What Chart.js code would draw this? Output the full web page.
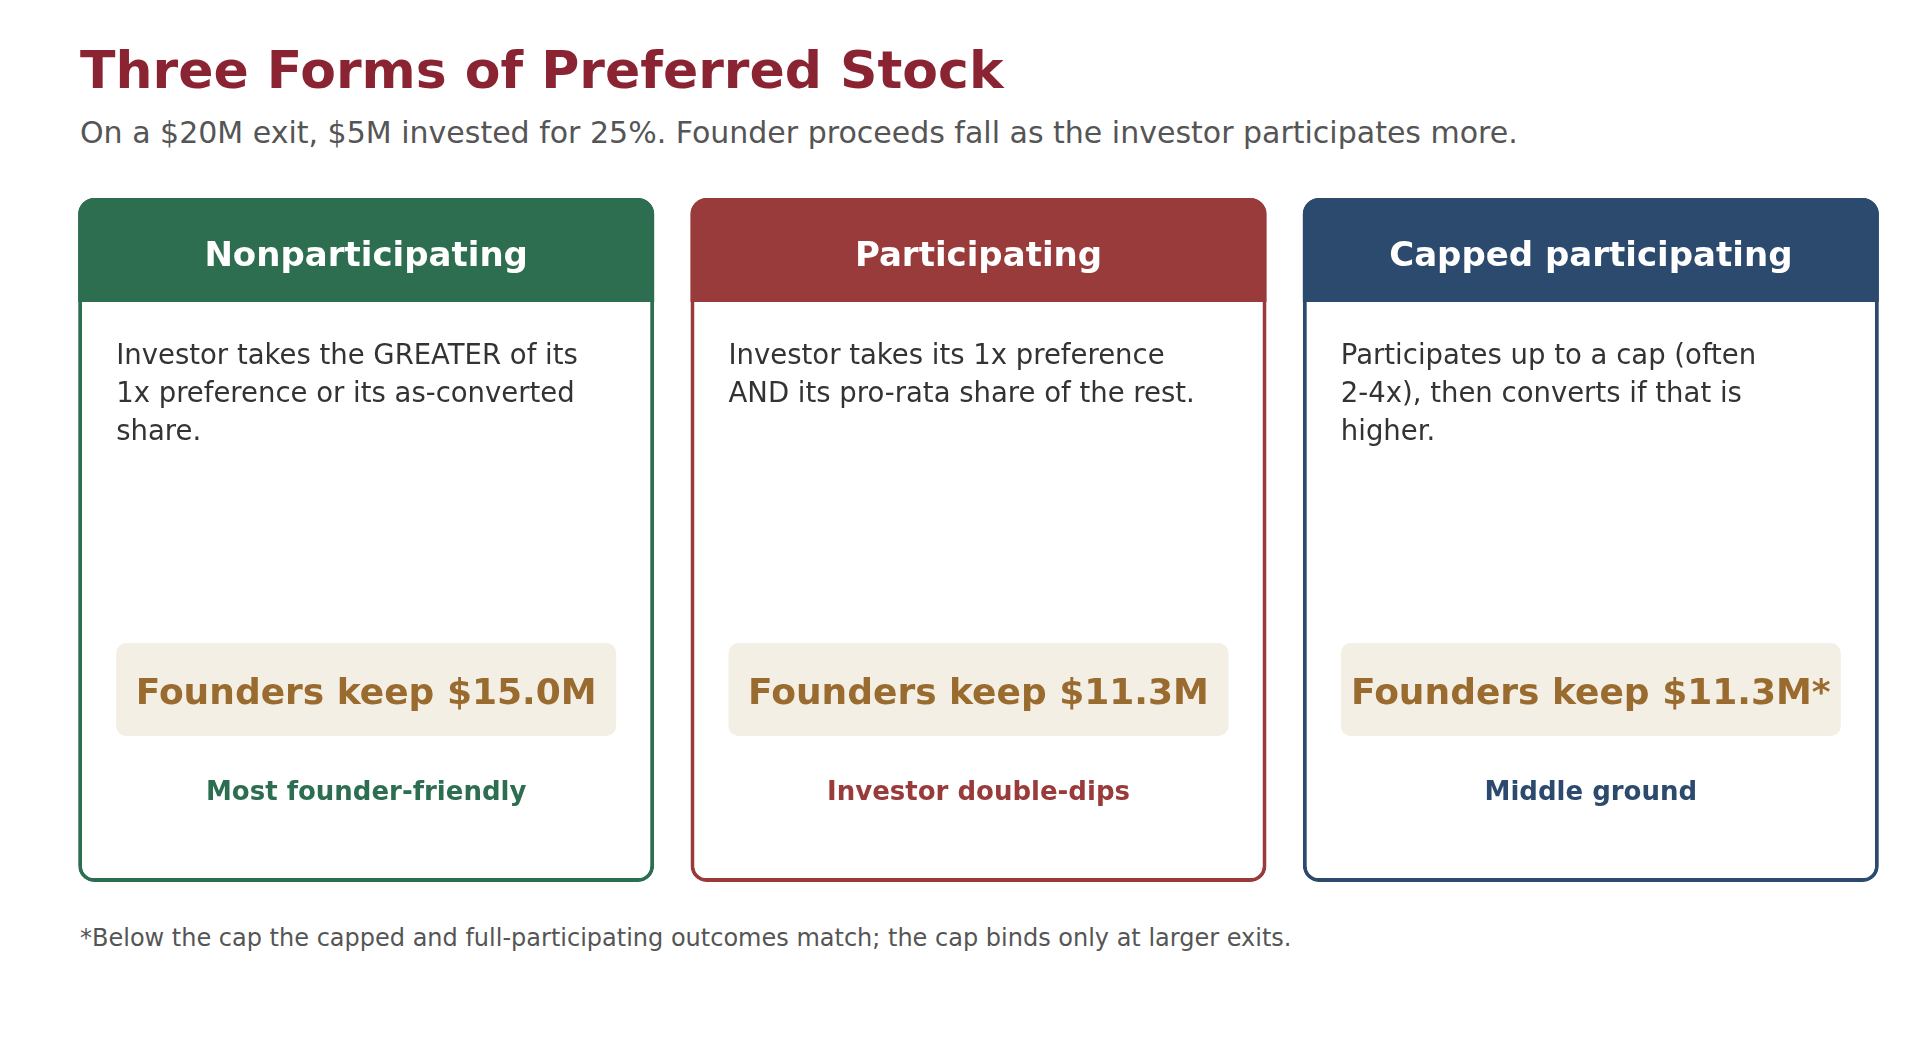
<!DOCTYPE html>
<html>
<head>
<meta charset="utf-8">
<title>Three Forms of Preferred Stock</title>
<script src="https://cdn.jsdelivr.net/npm/chart.js@4/dist/chart.umd.min.js"></script>
<style>
  html, body { margin: 0; padding: 0; background: #fff; }
  body { width: 1920px; height: 1040px; position: relative; overflow: hidden; font-family: "DejaVu Sans", sans-serif; }
  .txt { position: absolute; left: 80px; line-height: 1; white-space: nowrap; }
  #title { top: 44px; font-size: 52px; font-weight: bold; color: #8a2433; }
  #subtitle { top: 118px; font-size: 30px; color: #555; }
  #footnote { top: 926px; font-size: 24px; color: #555; }
  #wrap { position: absolute; left: 60px; top: 198px; width: 1837px; height: 684px; }
</style>
</head>
<body>
<div id="title" class="txt">Three Forms of Preferred Stock</div>
<div id="subtitle" class="txt">On a $20M exit, $5M invested for 25%. Founder proceeds fall as the investor participates more.</div>
<div id="wrap"><canvas id="cards" width="1837" height="684"></canvas></div>
<div id="footnote" class="txt">*Below the cap the capped and full-participating outcomes match; the cap binds only at larger exits.</div>

<script>
// Card data
const cardTitles = ['Nonparticipating', 'Participating', 'Capped participating'];
const cardLines = [
  ['Investor takes the GREATER of its', '1x preference or its as-converted', 'share.'],
  ['Investor takes its 1x preference', 'AND its pro-rata share of the rest.'],
  ['Participates up to a cap (often', '2-4x), then converts if that is', 'higher.']
];
const founderKeep = [15.0, 11.3, 11.3];   // $M kept by founders
const keepMarks = ['', '', '*'];
const tagLines = ['Most founder-friendly', 'Investor double-dips', 'Middle ground'];
const cardColors = ['#2e6e50', '#993b3b', '#2c4a6e'];
// each card spans the full height of the plot
const cardSpan = [[0, 1], [0, 1], [0, 1]];

const FONT = '"DejaVu Sans", sans-serif';

// Draw header, text and the "founders keep" box on top of each card bar
const cardPlugin = {
  id: 'cardContent',
  afterDatasetsDraw(chart) {
    const ctx = chart.ctx;
    const meta = chart.getDatasetMeta(0);
    meta.data.forEach((bar, i) => {
      const p = bar.getProps(['x', 'y', 'base', 'width'], true);
      const left = p.x - p.width / 2;
      const top = Math.min(p.y, p.base);
      const w = p.width;
      ctx.save();

      // coloured header
      ctx.fillStyle = cardColors[i];
      ctx.beginPath();
      ctx.roundRect(left, top, w, 104, [16, 16, 0, 0]);
      ctx.fill();

      ctx.textAlign = 'center';
      ctx.textBaseline = 'alphabetic';
      ctx.fillStyle = '#fff';
      ctx.font = 'bold 34px ' + FONT;
      ctx.fillText(cardTitles[i], p.x, top + 68);

      // description
      ctx.textAlign = 'left';
      ctx.fillStyle = '#333';
      ctx.font = '27.5px ' + FONT;
      cardLines[i].forEach((line, j) => {
        ctx.fillText(line, left + 38, top + 166 + j * 38);
      });

      // founders keep box
      ctx.fillStyle = '#f4efe5';
      ctx.beginPath();
      ctx.roundRect(left + 38, top + 445, w - 76, 93, 10);
      ctx.fill();
      ctx.textAlign = 'center';
      ctx.fillStyle = '#9a6b2f';
      ctx.font = 'bold 36px ' + FONT;
      ctx.fillText('Founders keep $' + founderKeep[i].toFixed(1) + 'M' + keepMarks[i], p.x, top + 506);

      // verdict
      ctx.fillStyle = cardColors[i];
      ctx.font = 'bold 26px ' + FONT;
      ctx.fillText(tagLines[i], p.x, top + 602);

      ctx.restore();
    });
  }
};

new Chart(document.getElementById('cards'), {
  type: 'bar',
  data: {
    labels: cardTitles,
    datasets: [{
      data: cardSpan,
      backgroundColor: '#fff',
      borderColor: cardColors,
      borderWidth: 4,
      borderSkipped: false,
      borderRadius: 16,
      barPercentage: 1,
      categoryPercentage: 576 / 612.33
    }]
  },
  options: {
    responsive: false,
    animation: false,
    events: [],
    layout: { padding: 0 },
    plugins: {
      legend: { display: false },
      tooltip: { enabled: false }
    },
    scales: {
      x: { display: false },
      y: { display: false, min: 0, max: 1 }
    }
  },
  plugins: [cardPlugin]
});
</script>
</body>
</html>
